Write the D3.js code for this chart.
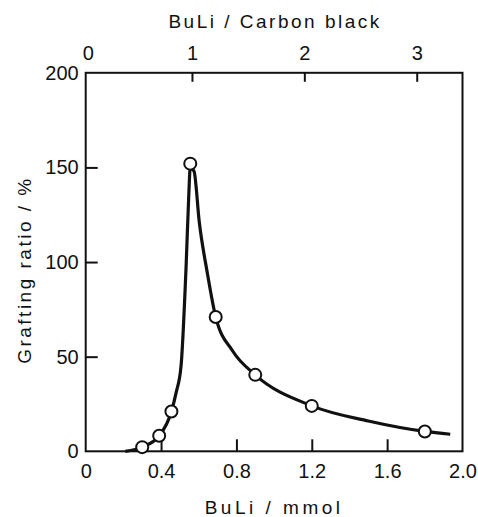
<!DOCTYPE html>
<html>
<head>
<meta charset="utf-8">
<script src="https://cdn.jsdelivr.net/npm/d3@7"></script>
<style>
  body { margin: 0; background: #fff; }
  text { font-family: "Liberation Sans", Arial, sans-serif; fill: #111; }
</style>
</head>
<body>
<svg id="chart" width="478" height="517"></svg>
<script>

// measured points, BuLi (mmol) vs grafting ratio (%)
var buli     = [0.30, 0.39, 0.455, 0.555, 0.69, 0.90, 1.20, 1.80];
var grafting = [2.2, 8.2, 21, 152, 71, 40.4, 24, 10.5];

// the hand drawn curve through them
var curveX = [0.21, 0.30, 0.39, 0.455, 0.48, 0.506, 0.533, 0.547, 0.555, 0.575, 0.603, 0.646, 0.69, 0.78, 0.90, 1.20, 1.50, 1.80, 1.935];
var curveY = [0, 2.2, 8.2, 21, 31, 45, 98, 135, 150, 148, 121, 94, 71, 53, 40.4, 24, 16, 10.5, 9];

var xTicks   = [0, 0.4, 0.8, 1.2, 1.6, 2.0];
var yTicks   = [0, 50, 100, 150, 200];
var topTicks = [0, 1, 2, 3];
// BuLi / Carbon black ratio and the mmol value it sits over
var topRatio = [0, 1, 3];
var topMmol  = [0, 0.564, 1.757];

var svg = d3.select("#chart");

var x = d3.scaleLinear().domain([0, 2]).range([85.7, 462.5]);
var y = d3.scaleLinear().domain([0, 200]).range([451.3, 72.8]);
var xTop = d3.scaleLinear().domain(topRatio).range(topMmol.map(function(d) { return x(d); }));

var fLeft = x(0), fRight = x(2), fTop = y(200), fBottom = y(0);

// frame
svg.append("rect")
    .attr("x", fLeft).attr("y", fTop)
    .attr("width", fRight - fLeft).attr("height", fBottom - fTop)
    .style("fill", "none").style("stroke", "#111").style("stroke-width", 2);

function styleAxis(g, size) {
    g.select(".domain").remove();
    g.selectAll(".tick line").style("stroke", "#111").style("stroke-width", 2);
    g.selectAll(".tick text").style("font-size", size + "px").style("fill", "#111")
        .attr("font-family", "Liberation Sans, Arial, sans-serif");
}

var gx = svg.append("g")
    .attr("transform", "translate(0," + fBottom + ")")
    .call(d3.axisBottom(x).tickValues(xTicks).tickSize(-12).tickPadding(13)
          .tickFormat(function(d) { return d == 0 ? "0" : d3.format(".1f")(d); }));
styleAxis(gx, 20);
gx.selectAll(".tick line").filter(function(d) { return d == 0 || d == 2; }).remove();

var gy = svg.append("g")
    .attr("transform", "translate(" + fLeft + ",0)")
    .call(d3.axisLeft(y).tickValues(yTicks).tickSize(-12).tickPadding(7));
styleAxis(gy, 20);
gy.selectAll(".tick line").filter(function(d) { return d == 0 || d == 200; }).remove();

var gt = svg.append("g")
    .attr("transform", "translate(0," + fTop + ")")
    .call(d3.axisTop(xTop).tickValues(topTicks).tickSize(-9).tickPadding(13)
          .tickFormat(d3.format("d")));
styleAxis(gt, 20);
gt.selectAll(".tick line").filter(function(d) { return d == 0; }).remove();
gt.selectAll(".tick text").filter(function(d) { return d == 0; }).attr("x", 2);

// axis titles
svg.append("text")
    .attr("x", (fLeft + fRight) / 2).attr("y", 514)
    .attr("text-anchor", "middle")
    .style("font-size", "19px").style("letter-spacing", "3.5px")
    .text("BuLi / mmol");

svg.append("text")
    .attr("x", (fLeft + fRight) / 2 + 1).attr("y", 28)
    .attr("text-anchor", "middle")
    .style("font-size", "19px").style("letter-spacing", "2.5px")
    .text("BuLi / Carbon black");

svg.append("text")
    .attr("transform", "translate(31," + ((fTop + fBottom) / 2 + 8) + ") rotate(-90)")
    .attr("text-anchor", "middle")
    .style("font-size", "19px").style("letter-spacing", "2.5px")
    .text("Grafting ratio / %");

// curve
var curvePts = curveX.map(function(d, i) { return [d, curveY[i]]; });
var line = d3.line()
    .x(function(d) { return x(d[0]); })
    .y(function(d) { return y(d[1]); })
    .curve(d3.curveMonotoneX);

svg.append("path")
    .datum(curvePts)
    .attr("d", line)
    .style("fill", "none").style("stroke", "#111").style("stroke-width", 3.2);

// points
var pts = buli.map(function(d, i) { return { b: d, g: grafting[i] }; });
svg.selectAll("circle.pt")
    .data(pts)
    .enter()
    .append("circle")
    .attr("class", "pt")
    .attr("cx", function(d) { return x(d.b); })
    .attr("cy", function(d) { return y(d.g); })
    .attr("r", 6)
    .style("fill", "#fff").style("stroke", "#111").style("stroke-width", 2);

</script>
</body>
</html>
